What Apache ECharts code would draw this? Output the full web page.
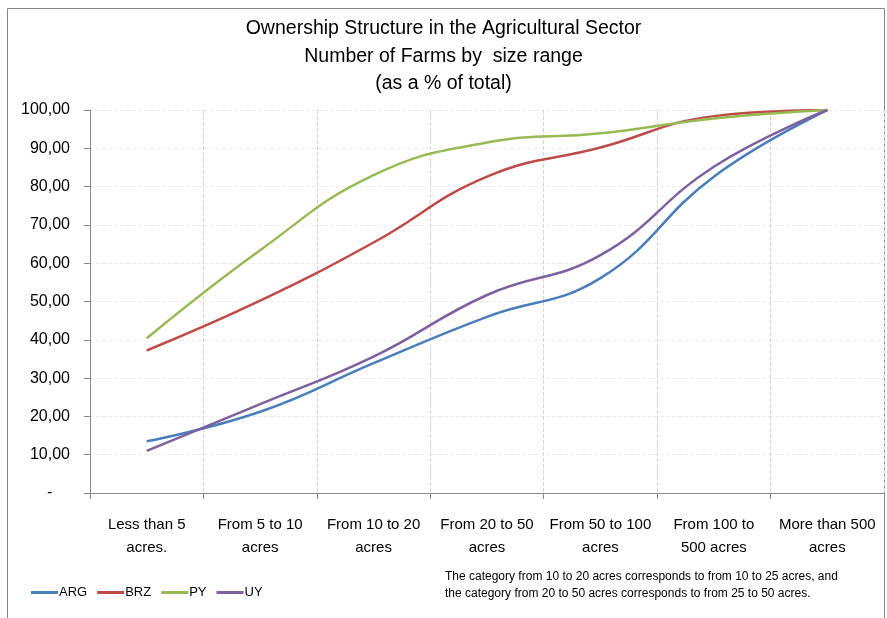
<!DOCTYPE html>
<html>
<head>
<meta charset="utf-8">
<script src="https://cdn.jsdelivr.net/npm/echarts@6/dist/echarts.min.js"></script>
<style>
  html, body { margin: 0; padding: 0; background: #fff; }
  #chart { width: 887px; height: 618px; }
</style>
</head>
<body>
<div id="chart"></div>
<script>
// size ranges (categories)
var categories = ['Less than 5\nacres.', 'From 5 to 10\nacres', 'From 10 to 20\nacres',
  'From 20 to 50\nacres', 'From 50 to 100\nacres', 'From 100 to\n500 acres', 'More than 500\nacres'];

// cumulative % of farms
var arg = [13.5, 21.2, 33.9, 46.0, 56.1, 82.6, 100];
var brz = [37.2, 50.2, 65.4, 82.6, 90.2, 98.4, 100];
var py  = [40.4, 63.4, 83.0, 91.5, 93.9, 97.8, 100];
var uy  = [11.0, 23.2, 35.6, 51.7, 62.1, 85.2, 100];

var names = ['ARG', 'BRZ', 'PY', 'UY'];
var colors = ['#4a7ebb', '#be4b48', '#98b954', '#7d60a0'];

var font = '"Liberation Sans", Arial, sans-serif';

var myChart = echarts.init(document.getElementById('chart'));

function mkSeries(name, data, color) {
  return {
    name: name,
    type: 'line',
    data: data,
    smooth: 0.45,
    symbol: 'none',
    lineStyle: { width: 2.5, color: color },
    itemStyle: { color: color }
  };
}

var option = {
  animation: false,
  backgroundColor: '#fff',
  textStyle: { fontFamily: font },
  title: {
    text: 'Ownership Structure in the Agricultural Sector\nNumber of Farms by  size range\n(as a % of total)',
    left: 'center',
    top: 10,
    textStyle: { fontSize: 19.5, fontWeight: 'normal', color: '#000', lineHeight: 27.5, fontFamily: font }
  },
  legend: {
    data: names,
    left: 26,
    top: 581,
    itemWidth: 27,
    itemHeight: 3,
    itemGap: 10,
    icon: 'rect',
    textStyle: { fontSize: 13, color: '#000', padding: [0, 0, 0, -4] }
  },
  grid: { left: 90, right: 3, top: 110, bottom: 125 },
  xAxis: {
    type: 'category',
    data: categories,
    boundaryGap: true,
    axisLine: { lineStyle: { color: '#888', width: 1 } },
    axisTick: { show: true, length: 6, lineStyle: { color: '#888' } },
    axisLabel: { fontSize: 15, color: '#000', lineHeight: 23, margin: 20, interval: 0 },
    splitLine: { show: true, lineStyle: { color: '#d4d4d4', type: 'dashed' } }
  },
  yAxis: {
    type: 'value',
    min: 0,
    max: 100,
    interval: 10,
    axisLine: { show: true, lineStyle: { color: '#888' } },
    axisTick: { show: true, length: 6, lineStyle: { color: '#888' } },
    axisLabel: {
      fontSize: 16, color: '#000', margin: 20,
      formatter: function (v) { return v === 0 ? '-    ' : v.toFixed(2).replace('.', ','); }
    },
    splitLine: { show: true, lineStyle: { color: '#f3ecec', type: 'dashed' } }
  },
  graphic: [
    {
      type: 'rect',
      shape: { x: 7.5, y: 8.5, width: 877, height: 620 },
      style: { fill: 'none', stroke: '#888', lineWidth: 1 },
      silent: true
    },
    {
      type: 'text',
      left: 445,
      top: 568,
      style: {
        text: 'The category from 10 to 20 acres corresponds to from 10 to 25 acres, and\nthe category from 20 to 50 acres corresponds to from 25 to 50 acres.',
        font: '12px ' + font,
        fill: '#000',
        lineHeight: 17
      }
    }
  ],
  series: [
    mkSeries(names[0], arg, colors[0]),
    mkSeries(names[1], brz, colors[1]),
    mkSeries(names[2], py, colors[2]),
    mkSeries(names[3], uy, colors[3])
  ]
};

myChart.setOption(option);
</script>
</body>
</html>
